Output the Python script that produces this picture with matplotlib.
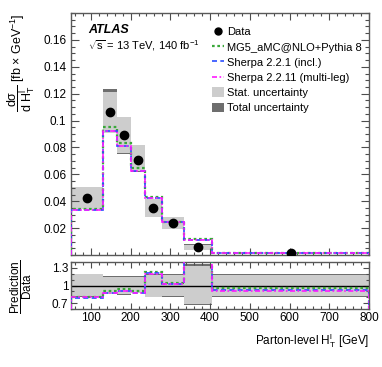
import matplotlib
matplotlib.use('Agg')
import matplotlib.pyplot as plt
from matplotlib.lines import Line2D
from matplotlib.patches import Patch
from matplotlib.ticker import MultipleLocator, FixedLocator, FuncFormatter
import numpy as np

plt.rcParams['font.family'] = ['Liberation Sans', 'DejaVu Sans']
plt.rcParams['mathtext.fontset'] = 'custom'
plt.rcParams['mathtext.rm'] = 'Liberation Sans'
plt.rcParams['mathtext.it'] = 'Liberation Sans:italic'
plt.rcParams['mathtext.bf'] = 'Liberation Sans:bold'

# bins in parton-level H_T^l [GeV]
edges = [50, 130, 165, 200, 235, 280, 335, 405, 800]
data = [0.0423, 0.1062, 0.0889, 0.0710, 0.0352, 0.0237, 0.0058, 0.0014]

stat_lo = [0.0345, 0.0906, 0.0762, 0.0622, 0.0285, 0.0194, 0.0040, 0.00114]
stat_hi = [0.0503, 0.1210, 0.1025, 0.0818, 0.0415, 0.0281, 0.0077, 0.00166]
tot_lo = [0.0340, 0.0906, 0.0748, 0.0618, 0.0283, 0.0192, 0.0039, 0.00113]
tot_hi = [0.0508, 0.1236, 0.1030, 0.0820, 0.0418, 0.0283, 0.0079, 0.00167]

mg5 = [0.0343, 0.0955, 0.0832, 0.0645, 0.0435, 0.0249, 0.0120, 0.00133]
sherpa221 = [0.0336, 0.0925, 0.0812, 0.0625, 0.0424, 0.0244, 0.0113, 0.00129]
sherpa2211 = [0.0337, 0.0922, 0.0810, 0.0622, 0.0422, 0.0243, 0.0114, 0.00128]

light = '#cdcdcd'
dark = '#6e6e6e'
c_mg5 = '#3aa83a'
c_s221 = '#2a4dff'
c_s2211 = '#ff1aff'

W, H = 382, 367
fig = plt.figure(figsize=(W / 100, H / 100), dpi=100)
ax = fig.add_axes([71 / W, 1 - 255 / H, 298 / W, 242 / H])
axr = fig.add_axes([71 / W, 1 - 309 / H, 298 / W, 47 / H])

e = np.array(edges)
d = np.array(data)
centers = 0.5 * (e[:-1] + e[1:])


def draw_boxes(a, lo, hi, color, scale=None):
    for i in range(len(d)):
        s = 1.0 if scale is None else scale[i]
        a.fill_between([e[i], e[i + 1]], lo[i] / s, hi[i] / s,
                       color=color, lw=0, zorder=1)


# main panel
draw_boxes(ax, tot_lo, tot_hi, dark)
draw_boxes(ax, stat_lo, stat_hi, light)
ax.stairs(mg5, edges, color=c_mg5, ls=(0, (1.2, 1.2)), lw=1.6, zorder=3)
ax.stairs(sherpa221, edges, color=c_s221, ls=(0, (3, 2)), lw=1.2, zorder=4)
ax.stairs(sherpa2211, edges, color=c_s2211, ls=(0, (3, 1.5, 1, 1.5)), lw=1.2, zorder=5)
ax.plot(centers, d, 'o', color='k', ms=6, zorder=6)

ax.set_xlim(50, 800)
ax.set_ylim(0, 0.18)
ax.yaxis.set_major_locator(FixedLocator([0.02, 0.04, 0.06, 0.08, 0.1, 0.12, 0.14, 0.16]))
ax.yaxis.set_minor_locator(MultipleLocator(0.005))
ax.yaxis.set_major_formatter(FuncFormatter(lambda v, p: '%g' % round(v, 3)))
ax.xaxis.set_major_locator(MultipleLocator(100))
ax.xaxis.set_minor_locator(MultipleLocator(20))
ax.set_xticklabels([])

# ratio panel
draw_boxes(axr, tot_lo, tot_hi, dark, scale=d)
draw_boxes(axr, stat_lo, stat_hi, light, scale=d)
axr.axhline(1, color='k', lw=1, zorder=2)
axr.stairs(np.array(mg5) / d, edges, color=c_mg5, ls=(0, (1.2, 1.2)), lw=1.6, zorder=3)
axr.stairs(np.array(sherpa221) / d, edges, color=c_s221, ls=(0, (3, 2)), lw=1.2, zorder=4)
axr.stairs(np.array(sherpa2211) / d, edges, color=c_s2211, ls=(0, (3, 1.5, 1, 1.5)), lw=1.2, zorder=5)
axr.set_xlim(50, 800)
axr.set_ylim(0.6, 1.4)
axr.yaxis.set_major_locator(FixedLocator([0.7, 1.0, 1.3]))
axr.yaxis.set_minor_locator(MultipleLocator(0.1))
axr.yaxis.set_major_formatter(FuncFormatter(lambda v, p: '%g' % round(v, 2)))
axr.xaxis.set_major_locator(MultipleLocator(100))
axr.xaxis.set_minor_locator(MultipleLocator(20))

for a in (ax, axr):
    a.tick_params(which='both', direction='in', top=True, right=True,
                  labelsize=8.5, colors='0.3', labelcolor='k', width=0.8)
    for sp in a.spines.values():
        sp.set_color('0.35')
        sp.set_linewidth(1.0)
ax.tick_params(which='major', length=6)
ax.tick_params(which='minor', length=3)
ax.tick_params(axis='x', which='major', length=5)
ax.tick_params(axis='x', which='minor', length=2.5)
axr.tick_params(which='major', length=4, pad=2)
axr.tick_params(which='minor', length=2)

# texts
fig.text(88 / W, 1 - 30 / H, 'ATLAS', fontsize=9, fontweight='bold', fontstyle='italic',
         va='center')
fig.text(88 / W, 1 - 46 / H, r'$\sqrt{\mathrm{s}}$ = 13 TeV, 140 fb$^{\mathrm{-1}}$',
         fontsize=8, va='center')
fig.text(21 / W, 1 - 13 / H,
         r'$\dfrac{\mathrm{d\sigma}}{\mathrm{d\ H_{T}^{l}}}$ [fb $\times$ GeV$^{\mathrm{-1}}$]',
         rotation=90, fontsize=9, ha='center', va='top')
fig.text(21 / W, 1 - 287 / H, r'$\dfrac{\mathrm{Prediction}}{\mathrm{Data}}$',
         rotation=90, fontsize=8.5, ha='center', va='center')
fig.text(369 / W, 1 - 341 / H, r'Parton-level $\mathrm{H_{T}^{l}}$ [GeV]',
         fontsize=8.5, ha='right', va='center')

handles = [
    Line2D([], [], ls='none', marker='o', color='k', ms=5),
    Line2D([], [], color=c_mg5, ls=(0, (1.2, 1.2)), lw=1.6),
    Line2D([], [], color=c_s221, ls=(0, (3, 2)), lw=1.2),
    Line2D([], [], color=c_s2211, ls=(0, (3, 1.5, 1, 1.5)), lw=1.2),
    Patch(facecolor=light, edgecolor='none'),
    Patch(facecolor=dark, edgecolor='none'),
]
labels = ['Data', 'MG5_aMC@NLO+Pythia 8', 'Sherpa 2.2.1 (incl.)',
          'Sherpa 2.2.11 (multi-leg)', 'Stat. uncertainty', 'Total uncertainty']
fig.legend(handles, labels, loc='upper left', bbox_to_anchor=(212 / W, 1 - 27 / H),
           frameon=False, fontsize=8, handlelength=1.1, handleheight=0.9,
           handletextpad=0.25, labelspacing=0.42, borderpad=0, borderaxespad=0)

fig.savefig('out.png', dpi=100)
